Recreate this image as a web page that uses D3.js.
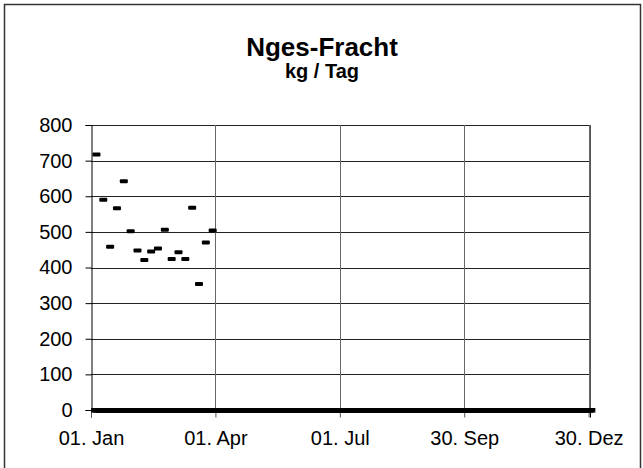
<!DOCTYPE html>
<html><head><meta charset="utf-8">
<script src="https://cdn.jsdelivr.net/npm/d3@7"></script>
<style>html,body{margin:0;padding:0;background:#fff;}svg{display:block;}text{font-family:"Liberation Sans",Arial,sans-serif;}</style>
</head><body>
<svg id="c" width="643" height="468"></svg>
<script>
const title = "Nges-Fracht";
const subtitle = "kg / Tag";
const dates = ["2008-01-05","2008-01-10","2008-01-15","2008-01-20","2008-01-25","2008-01-30",
  "2008-02-04","2008-02-09","2008-02-14","2008-02-19","2008-02-24","2008-02-29",
  "2008-03-05","2008-03-10","2008-03-15","2008-03-20","2008-03-25","2008-03-30"];
const values = [717,590,458,566,642,502,448,421,445,453,506,424,443,424,568,354,470,504];
const zeroStart = "2008-01-04", zeroEnd = "2009-01-01"; // days drawn with value 0
const xTickDates = ["2008-01-01","2008-04-01","2008-07-01","2008-09-30","2008-12-30"];
const xTickLabels = ["01. Jan","01. Apr","01. Jul","30. Sep","30. Dez"];
const yTicks = [0,100,200,300,400,500,600,700,800];

const parse = d3.utcParse("%Y-%m-%d");
const svg = d3.select("#c");
const L = 91, R = 590, T = 125, B = 410;
const x = d3.scaleUtc().domain([parse("2008-01-01"), parse("2008-12-31")]).range([L, R]);
const y = d3.scaleLinear().domain([0, 800]).range([B, T]);

// outer border
svg.append("rect").attr("x",4.5).attr("y",4.5).attr("width",636).attr("height",470)
  .attr("fill","none").attr("stroke","#333").attr("stroke-width",1.5);

// titles
svg.append("text").attr("x",322).attr("y",56).attr("text-anchor","middle")
  .attr("font-size",26).attr("font-weight","bold").text(title);
svg.append("text").attr("x",322).attr("y",78).attr("text-anchor","middle")
  .attr("font-size",20).attr("font-weight","bold").text(subtitle);

// horizontal gridlines
svg.append("g").selectAll("line").data(yTicks.filter(d=>d>0)).join("line")
  .attr("x1",L).attr("x2",R).attr("y1",d=>Math.round(y(d))+0.5).attr("y2",d=>Math.round(y(d))+0.5)
  .attr("stroke","#222").attr("stroke-width",1);
// vertical gridlines
const xt = xTickDates.map(parse);
svg.append("g").selectAll("line").data(xt.slice(1)).join("line")
  .attr("x1",d=>Math.round(x(d))+0.5).attr("x2",d=>Math.round(x(d))+0.5).attr("y1",T).attr("y2",B)
  .attr("stroke","#666").attr("stroke-width",1);
// plot right border
svg.append("line").attr("x1",R+0.5).attr("x2",R+0.5).attr("y1",T).attr("y2",B).attr("stroke","#555");

// y axis
const yAxis = svg.append("g").attr("transform",`translate(${L+0.5},0)`)
  .call(d3.axisLeft(y).tickValues(yTicks).tickSize(6).tickPadding(13).tickFormat(d3.format("d")));
yAxis.select(".domain").attr("stroke","#000");
yAxis.selectAll("text").attr("font-size",20).attr("font-family","Liberation Sans, Arial, sans-serif").attr("fill","#000");

// x axis
const xAxis = svg.append("g").attr("transform",`translate(0,${B+0.5})`)
  .call(d3.axisBottom(x).tickValues(xt).tickSize(7).tickPadding(13).tickFormat((d,i)=>xTickLabels[i]));
xAxis.select(".domain").attr("stroke","#000");
xAxis.selectAll(".tick line").attr("stroke","#555");
xAxis.selectAll("text").attr("font-size",20).attr("font-family","Liberation Sans, Arial, sans-serif").attr("fill","#000");

// zero-valued days
const zeroDays = d3.utcDay.range(parse(zeroStart), d3.utcDay.offset(parse(zeroEnd),1));
svg.append("g").selectAll("rect").data(zeroDays).join("rect")
  .attr("x",d=>x(d)-4).attr("y",y(0)-2).attr("width",8).attr("height",4.5).attr("fill","#000");

// measured values
svg.append("g").selectAll("rect").data(dates.map((d,i)=>({d:parse(d),v:values[i]}))).join("rect")
  .attr("x",p=>x(p.d)-4).attr("y",p=>y(p.v)-2).attr("width",8).attr("height",4).attr("rx",1).attr("fill","#000");
</script>
</body></html>
